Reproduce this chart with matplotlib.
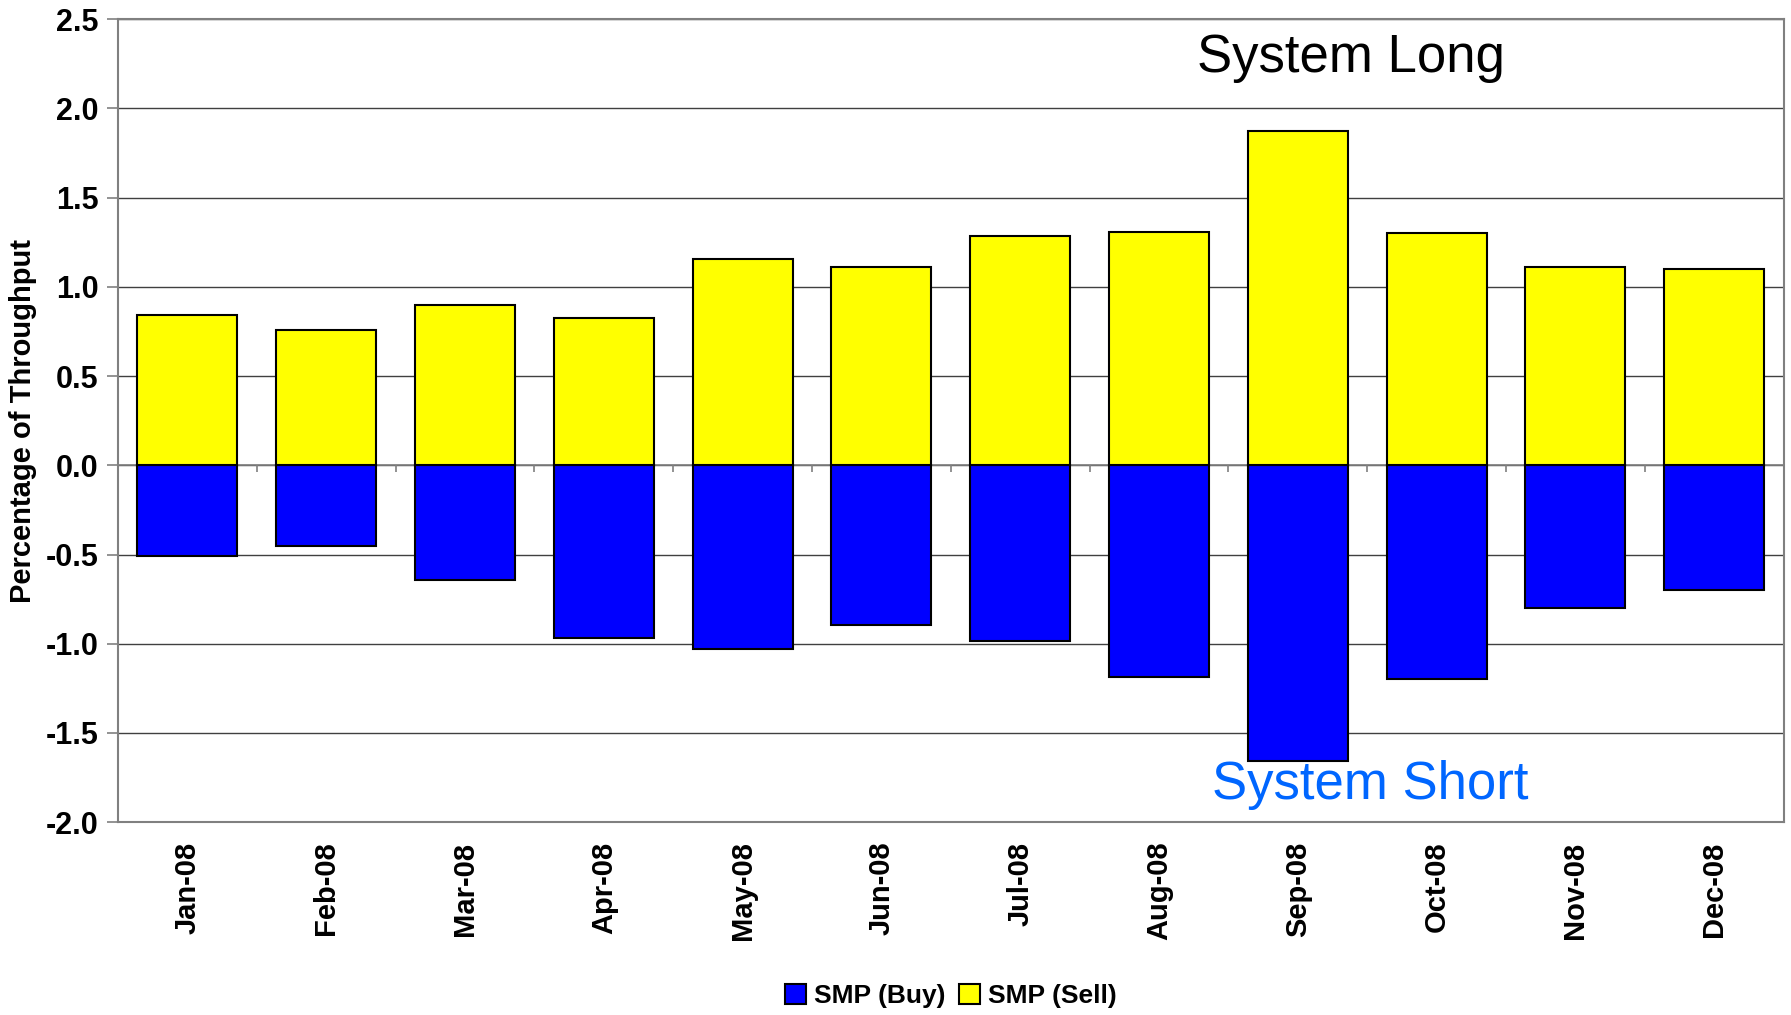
import numpy as np
import matplotlib
matplotlib.use("Agg")
from matplotlib import pyplot as plt
from matplotlib.ticker import FormatStrFormatter

plt.rcParams["font.family"] = ["Liberation Sans", "DejaVu Sans"]
plt.rcParams["axes.unicode_minus"] = False

months = ["Jan-08", "Feb-08", "Mar-08", "Apr-08", "May-08", "Jun-08",
          "Jul-08", "Aug-08", "Sep-08", "Oct-08", "Nov-08", "Dec-08"]
smpSell = [0.845, 0.76, 0.90, 0.826, 1.159, 1.114, 1.287, 1.306, 1.876, 1.30, 1.114, 1.10]
smpBuy = [-0.51, -0.455, -0.64, -0.967, -1.03, -0.896, -0.986, -1.184, -1.658, -1.197, -0.80, -0.698]
yTicks = [-2.0, -1.5, -1.0, -0.5, 0.0, 0.5, 1.0, 1.5, 2.0, 2.5]

fig = plt.figure(figsize=(17.91, 10.15), dpi=100)
ax = fig.add_axes([0.0659, 0.190, 0.930, 0.791])

x = np.arange(len(months))
ax.bar(x, smpBuy, width=0.72, color="#0000FF", edgecolor="black", linewidth=1.5, label="SMP (Buy)", zorder=3)
ax.bar(x, smpSell, width=0.72, color="#FFFF00", edgecolor="black", linewidth=1.5, label="SMP (Sell)", zorder=3)

ax.set_xlim(-0.5, len(months) - 0.5)
ax.set_ylim(yTicks[0], yTicks[-1])
ax.set_yticks(yTicks)
ax.yaxis.set_major_formatter(FormatStrFormatter("%.1f"))
ax.yaxis.grid(True, color="#404040", linewidth=1.0, zorder=0)
ax.set_axisbelow(True)

# zero line with little category separator ticks
ax.axhline(0, color="#808080", linewidth=1.2, zorder=2)
ax.vlines(x[:-1] + 0.5, -0.04, 0, color="#808080", linewidth=1.2, zorder=2)

ax.set_xticks(x)
ax.set_xticklabels(months, rotation=90, fontsize=21, fontweight="bold")
ax.tick_params(axis="x", length=0, pad=14)
ax.tick_params(axis="y", length=8, width=1.2, color="#808080", labelsize=22, pad=6)
for lbl in ax.get_yticklabels():
    lbl.set_fontweight("bold")
for sp in ax.spines.values():
    sp.set_color("#808080")
    sp.set_linewidth(1.5)

ax.set_ylabel("Percentage of Throughput", fontsize=21, fontweight="bold", labelpad=6)

ax.text(8.38, 2.285, "System Long", fontsize=38, ha="center", va="center", color="black")
ax.text(8.52, -1.79, "System Short", fontsize=38, ha="center", va="center", color="#0066FF")

ax.legend(loc="lower center", bbox_to_anchor=(0.5, -0.245), ncol=2, frameon=False,
          prop={"size": 19, "weight": "bold"}, handlelength=0.8, handleheight=0.8,
          handletextpad=0.3, columnspacing=0.5, borderaxespad=0)

fig.savefig("out.png", dpi=100)
